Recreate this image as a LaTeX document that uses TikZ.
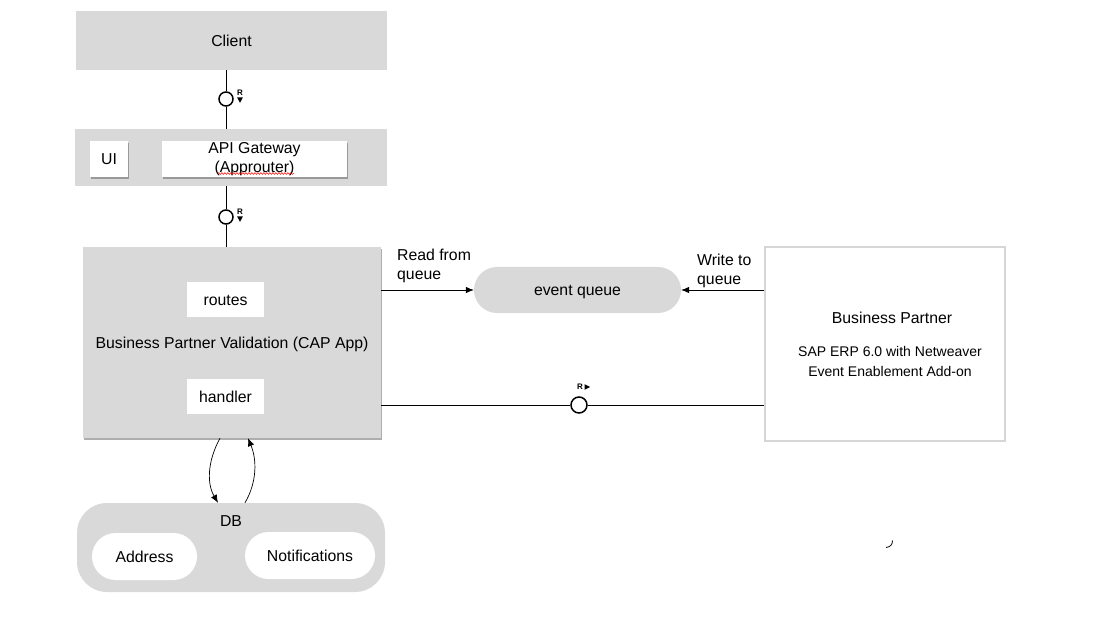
\documentclass[tikz,border=0pt]{standalone}
\usepackage{fontspec}
\setmainfont{Liberation Sans}
\usetikzlibrary{arrows.meta,shadows,decorations.pathmorphing,calc}
\definecolor{boxgray}{RGB}{217,217,217}
\definecolor{bordergray}{RGB}{214,214,214}
\newcommand\fmain{\fontsize{15.8}{19}\selectfont}
\newcommand\fsmall{\fontsize{14}{20}\selectfont}
\begin{document}
\begin{tikzpicture}[x=1pt,y=-1pt,
  oneline/.style={text height=11.3pt,text depth=0pt},
  graybox/.style={fill=boxgray,draw=none,inner sep=0pt,font=\fmain},
  whitebox/.style={fill=white,draw=none,inner sep=0pt,font=\fmain,align=center},
  shadowed/.style={drop shadow={shadow xshift=1pt,shadow yshift=-1.6pt,opacity=0.45,fill=black!70}},
  capsule/.style={inner sep=0pt,font=\fmain,rounded corners=#1},
  iface/.style={circle,draw=black,line width=1.5pt,fill=white,inner sep=0pt,minimum size=14pt},
  rlab/.style={inner sep=0pt,font=\fontsize{8}{8}\selectfont\bfseries},
  conn/.style={draw=black,line width=0.7pt},
  arr/.style={conn,-{Latex[length=8pt,width=6.5pt]}},
  lbl/.style={inner sep=0pt,font=\fmain,align=left}
]
\useasboundingbox (0,0) rectangle (1107,617);

% Client
\node[graybox,oneline,minimum width=311pt,minimum height=59pt] (client) at (231.5,40.5) {Client};

% API gateway band
\node[graybox,minimum width=312pt,minimum height=57pt] (gw) at (231,157.5) {};
\node[whitebox,oneline,shadowed,minimum width=38pt,minimum height=36pt] (ui) at (109,159) {UI};
\node[whitebox,shadowed,minimum width=185pt,minimum height=36pt] (api) at (254.5,159) {API Gateway\\(Approuter)};
\draw[red,line width=0.5pt,decorate,decoration={snake,amplitude=0.9pt,segment length=3pt}] (218,173.5) -- (294,173.5);

% interface client -> gateway
\node[iface] (c1) at (226,99) {};
\draw[conn] (c1 |- client.south) -- (c1) -- (c1 |- gw.north);
\node[rlab] (r1) at (240,93) {R};
\fill ($(r1.south)+(-2.8,1.5)$) -- ++(5.6,0) -- ++(-2.8,5.5) -- cycle;

% CAP app
\node[graybox,oneline,shadowed,minimum width=298pt,minimum height=191pt] (cap) at (232,342.5) {Business Partner Validation (CAP App)};
\node[whitebox,oneline,minimum width=77pt,minimum height=35pt] (routes) at (225.5,299.5) {routes};
\node[whitebox,oneline,minimum width=77pt,minimum height=35pt] (handler) at (225.5,396.5) {handler};

% interface gateway -> CAP
\node[iface] (c2) at (226,217) {};
\draw[conn] (c2 |- gw.south) -- (c2) -- (c2 |- cap.north);
\node[rlab] (r2) at (240,212) {R};
\fill ($(r2.south)+(-2.8,1.5)$) -- ++(5.6,0) -- ++(-2.8,5.5) -- cycle;

% event queue
\node[graybox,oneline,capsule=23pt,minimum width=207pt,minimum height=46pt] (eq) at (577.5,290) {event queue};

% Business Partner
\node[fill=white,draw=bordergray,line width=1.5pt,inner sep=0pt,minimum width=240pt,minimum height=194pt] (bp) at (885,344) {};
\node[inner sep=0pt,oneline,font=\fmain] (bptitle) at (892,318) {Business Partner};
\node[inner sep=0pt,font=\fsmall,align=center] (bpsub) at (890,361.5) {SAP ERP 6.0 with Netweaver\\Event Enablement Add-on};

% queue arrows
\draw[arr] (cap.east |- eq.west) -- (eq.west);
\node[lbl,anchor=north west] (readlbl) at (397,249) {Read from\\queue};
\draw[arr] (bp.west |- eq.east) -- (eq.east);
\node[lbl,anchor=north west] (writelbl) at (697,254) {Write to\\queue};

% CAP -> BP request
\node[iface,minimum size=16pt] (c3) at (579,405) {};
\draw[conn] (cap.east |- c3) -- (c3) -- (bp.west |- c3);
\node[rlab] (r3) at (580,387) {R};
\fill ($(r3.east)+(1.5,-2.8)$) -- ++(0,5.6) -- ++(5.5,-2.8) -- cycle;

% DB
\node[graybox,capsule=30pt,minimum width=308pt,minimum height=89pt] (db) at (231,547.5) {};
\node[inner sep=0pt,oneline,font=\fmain] (dblabel) at (231,521) {DB};
\node[fill=white,oneline,capsule=23.5pt,minimum width=105pt,minimum height=47pt] (addr) at (144.5,556.5) {Address};
\node[fill=white,oneline,capsule=23.5pt,minimum width=130pt,minimum height=47pt] (notif) at (310,555.5) {Notifications};

% CAP <-> DB curved arrows
\draw[arr] ([xshift=-12pt]cap.south) .. controls (207,462) and (207,484) .. ([xshift=-13pt]db.north);
\draw[arr] ([xshift=14pt]db.north) .. controls (257,482) and (257,460) .. ([xshift=16pt]cap.south);

% stray mark
\draw[line width=0.8pt] (886,547.5) .. controls (890,547) and (892.5,545) .. (892.5,540.5);
\end{tikzpicture}
\end{document}
